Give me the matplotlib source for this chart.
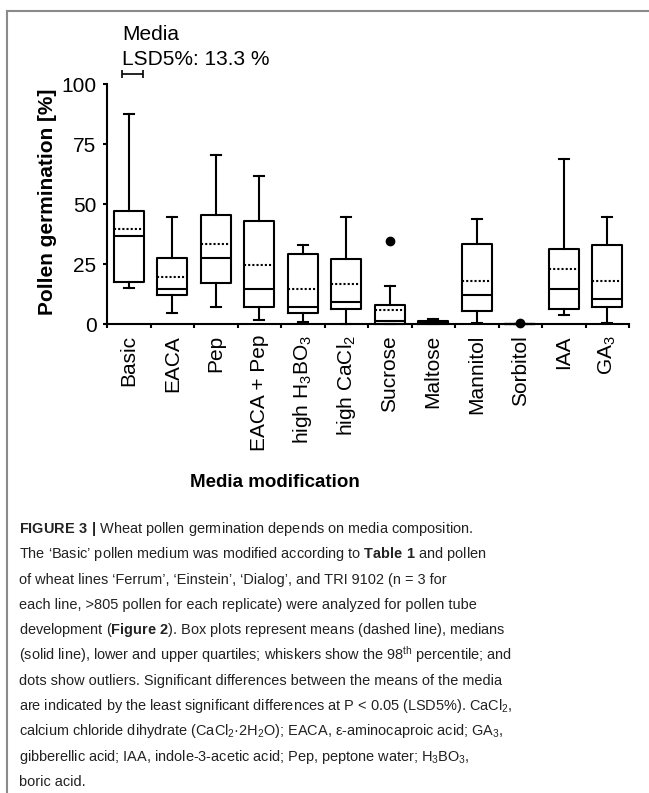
import numpy as np
import matplotlib
matplotlib.use('Agg')
import matplotlib.pyplot as plt
from matplotlib import font_manager
from matplotlib.lines import Line2D

installed = {f.name for f in font_manager.fontManager.ttflist}
base_font = 'Liberation Sans'
narrow_font = 'Liberation Sans Narrow' if 'Liberation Sans Narrow' in installed else 'Liberation Sans'

plt.rcParams['font.family'] = [base_font, 'DejaVu Sans']
plt.rcParams['mathtext.fontset'] = 'custom'
plt.rcParams['mathtext.rm'] = narrow_font
plt.rcParams['mathtext.bf'] = narrow_font + ':bold'
plt.rcParams['mathtext.default'] = 'regular'

# data (pollen germination, %)
media = ['Basic', 'EACA', 'Pep', 'EACA + Pep', 'high H$_3$BO$_3$', 'high CaCl$_2$',
         'Sucrose', 'Maltose', 'Mannitol', 'Sorbitol', 'IAA', 'GA$_3$']
whis_hi = [87.5, 44.4, 70.3, 61.7, 32.9, 44.4, 15.8, 2.2, 43.9, 0.0, 68.6, 44.4]
q3 = [47.2, 27.5, 45.6, 42.9, 29.2, 26.9, 7.8, 1.4, 33.5, 0.0, 31.4, 32.9]
means = [39.4, 19.7, 33.3, 24.4, 14.7, 16.8, 5.8, 0.8, 17.9, 0.1, 23.0, 17.9]
medians = [36.8, 14.7, 27.5, 14.7, 7.2, 9.3, 1.2, 0.5, 12.1, 0.0, 14.7, 10.4]
q1 = [17.6, 12.1, 17.0, 7.2, 4.4, 6.1, 0.0, 0.0, 5.4, 0.0, 6.1, 7.2]
whis_lo = [14.9, 4.4, 7.2, 1.7, 1.0, 0.0, 0.0, 0.0, 0.4, 0.0, 3.9, 0.4]
outliers = [[], [], [], [], [], [], [34.6], [], [], [0.3], [], []]
lsd = 13.3

stats = []
for i in range(len(media)):
    stats.append(dict(med=medians[i], q1=q1[i], q3=q3[i], whislo=whis_lo[i],
                      whishi=whis_hi[i], mean=means[i], fliers=outliers[i]))

fig = plt.figure(figsize=(6.49, 7.93), dpi=100)
ax = fig.add_axes([107/649, 1 - 324/793, 522/649, 240/793])

lw = 1.5
bp = ax.bxp(stats, positions=np.arange(len(media)), widths=0.7, capwidths=0.22,
            showmeans=True, meanline=True, patch_artist=False,
            boxprops=dict(color='k', lw=lw),
            medianprops=dict(color='k', lw=lw),
            meanprops=dict(color='k', lw=lw, linestyle=(0, (1, 1))),
            whiskerprops=dict(color='k', lw=lw),
            capprops=dict(color='k', lw=lw),
            flierprops=dict(marker='o', markerfacecolor='k', markeredgecolor='k',
                            markersize=6))
for key in bp:
    for art in bp[key]:
        art.set_clip_on(False)

ax.set_xlim(-0.5, len(media) - 0.5)
ax.set_ylim(0, 100)
ax.spines['top'].set_visible(False)
ax.spines['right'].set_visible(False)
ax.spines['left'].set_linewidth(lw)
ax.spines['bottom'].set_linewidth(lw)

ax.set_yticks([0, 25, 50, 75, 100])
ax.tick_params(axis='y', length=3, width=lw, pad=4.5, labelsize=15)
ax.set_xticks(np.arange(len(media) + 1) - 0.5)
ax.set_xticklabels([])
ax.tick_params(axis='x', which='major', length=3, width=lw)
ax.set_xticks(np.arange(len(media)), minor=True)
ax.set_xticklabels(media, minor=True, rotation=90, fontsize=15)
ax.tick_params(axis='x', which='minor', length=0, pad=8)

ax.set_ylabel('Pollen germination [%]', fontsize=15, fontweight='bold')
ax.yaxis.set_label_coords(-0.096, 0.51)

# LSD bar
ax.errorbar(0.09, 104.2, xerr=0.24, color='k', lw=1.2, capsize=3, capthick=1.2,
            clip_on=False)
fig.text(122/649, 1 - 40/793, 'Media', fontsize=15, va='baseline')
fig.text(122/649, 1 - 65/793, f'LSD5%: {lsd} %', fontsize=15, va='baseline')

fig.text(275/649, 1 - 487/793, 'Media modification', fontsize=13.5,
         fontweight='bold', family=narrow_font, ha='center', va='baseline')

# caption
caption = [
    r'$\mathbf{FIGURE\ 3\ |}$ Wheat pollen germination depends on media composition.',
    r'The ‘Basic’ pollen medium was modified according to $\mathbf{Table\ 1}$ and pollen',
    r'of wheat lines ‘Ferrum’, ‘Einstein’, ‘Dialog’, and TRI 9102 (n = 3 for',
    r'each line, >805 pollen for each replicate) were analyzed for pollen tube',
    r'development ($\mathbf{Figure\ 2}$). Box plots represent means (dashed line), medians',
    r'(solid line), lower and upper quartiles; whiskers show the 98$^{th}$ percentile; and',
    r'dots show outliers. Significant differences between the means of the media',
    r'are indicated by the least significant differences at P < 0.05 (LSD5%). CaCl$_2$,',
    r'calcium chloride dihydrate (CaCl$_2$·2H$_2$O); EACA, ε-aminocaproic acid; GA$_3$,',
    r'gibberellic acid; IAA, indole-3-acetic acid; Pep, peptone water; H$_3$BO$_3$,',
    r'boric acid.',
]
texts = []
for k, line in enumerate(caption):
    t = fig.text(19/649, 1 - (533 + 25.3*k)/793, line, fontsize=12,
                 family=[narrow_font, 'DejaVu Sans'], color='#222222', va='baseline')
    texts.append(t)
renderer = fig.canvas.get_renderer()
w = texts[5].get_window_extent(renderer).width
size = 12 * 490 / w
for t in texts:
    t.set_fontsize(size)

# frame lines
fig.add_artist(Line2D([7/649, 1], [1 - 11/793, 1 - 11/793], color='#8a8a8a', lw=1.5))
fig.add_artist(Line2D([7/649, 7/649], [0, 1 - 11/793], color='#8a8a8a', lw=1.5))

fig.savefig('out.png', dpi=100)
